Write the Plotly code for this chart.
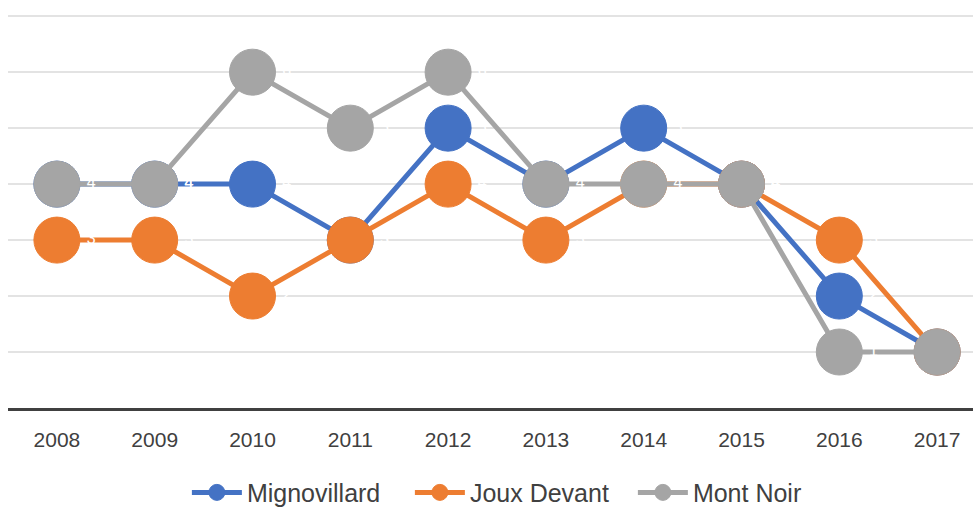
import plotly.graph_objects as go

years = ["2008", "2009", "2010", "2011", "2012", "2013", "2014", "2015", "2016", "2017"]
mignovillard = [4, 4, 4, 3, 5, 4, 5, 4, 2, 1]
joux_devant = [3, 3, 2, 3, 4, 3, 4, 4, 3, 1]
mont_noir = [4, 4, 6, 5, 6, 4, 4, 4, 1, 1]

series = [
    ("Mignovillard", mignovillard, "#4472C4"),
    ("Joux Devant", joux_devant, "#ED7D31"),
    ("Mont Noir", mont_noir, "#A5A5A5"),
]

fig = go.Figure()
for name, vals, col in series:
    positions = ["middle right"] * (len(vals) - 1) + ["top center"]
    fig.add_trace(go.Scatter(
        x=years, y=vals, name=name, mode="lines+markers+text",
        line=dict(color=col, width=5),
        marker=dict(color=col, size=46, line=dict(color=col, width=1)),
        text=[str(v) for v in vals], textposition=positions,
        textfont=dict(color="white", size=16, family="Liberation Sans"),
        cliponaxis=False,
    ))

fig.update_layout(
    width=973, height=507,
    margin=dict(l=8, r=0, t=5, b=99, autoexpand=False),
    paper_bgcolor="white", plot_bgcolor="white",
    showlegend=True,
    legend=dict(orientation="h", x=0.532, xanchor="center", y=-0.21, yanchor="middle",
                font=dict(size=25, color="#404040", family="Liberation Sans"),
                itemwidth=50, tracegroupgap=0,
                entrywidth=158, entrywidthmode="pixels"),
    xaxis=dict(type="category", range=[-0.5, 9.367], showgrid=False,
               showline=True, linecolor="#404040", linewidth=3,
               ticks="", tickfont=dict(size=21, color="#404040", family="Liberation Sans"),
               ticklabelstandoff=11),
    yaxis=dict(range=[0, 7.2], dtick=1, showgrid=True, gridcolor="#E3E3E3", gridwidth=2,
               showticklabels=False, zeroline=False, showline=False),
)

fig.write_html("out.html", config={"displayModeBar": False},
               post_script="document.body.style.margin='0';")
